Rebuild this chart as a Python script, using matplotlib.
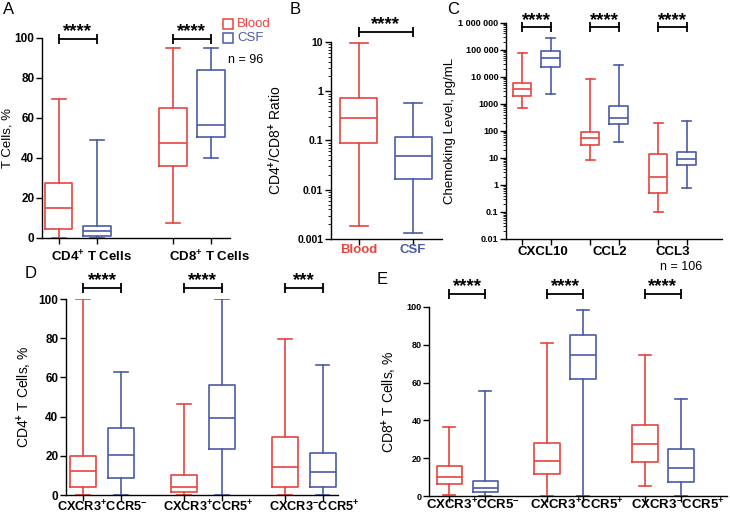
import matplotlib
matplotlib.use('Agg')
import matplotlib.pyplot as plt
from matplotlib.lines import Line2D
from matplotlib.ticker import LogLocator, NullFormatter, FixedLocator

plt.rcParams['font.family'] = ['Liberation Sans', 'DejaVu Sans']
plt.rcParams['font.weight'] = 'bold'
plt.rcParams['mathtext.fontset'] = 'custom'
plt.rcParams['mathtext.rm'] = 'Liberation Sans'
plt.rcParams['mathtext.bf'] = 'Liberation Sans:bold'

RED = '#E8443F'
BLUE = '#4A5BA8'

# box stats: [min, q1, median, q3, max]
a_groups = ['CD4$^{\\mathbf{+}}$ T Cells', 'CD8$^{\\mathbf{+}}$ T Cells']
a_blood = [[0, 4.7, 15.2, 27.4, 69.6], [7.4, 36.1, 47.3, 64.9, 94.8]]
a_csf = [[0, 1.0, 3.3, 6.0, 49.0], [39.8, 50.3, 56.4, 83.9, 95.0]]

b_groups = ['Blood', 'CSF']
b_blood = [[0.00186, 0.091, 0.29, 0.74, 9.5]]
b_csf = [[0.00132, 0.0166, 0.049, 0.118, 0.575]]

c_groups = ['CXCL10', 'CCL2', 'CCL3']
c_blood = [[690, 1950, 3500, 5700, 74000], [8.5, 30, 54, 93, 8100], [0.1, 0.52, 1.9, 14, 190]]
c_csf = [[2250, 23000, 48000, 93000, 265000], [40, 183, 295, 840, 27000], [0.76, 5.5, 9.1, 17, 240]]

subsets = ['CXCR3$^{\\mathbf{+}}$CCR5$^{\\mathbf{-}}$', 'CXCR3$^{\\mathbf{+}}$CCR5$^{\\mathbf{+}}$',
           'CXCR3$^{\\mathbf{-}}$CCR5$^{\\mathbf{+}}$']
d_blood = [[0, 4.3, 12.4, 20.1, 100], [0, 1.7, 3.9, 10.2, 46.3], [0, 3.9, 14.5, 29.5, 79.6]]
d_csf = [[0, 8.5, 20.4, 34.1, 62.7], [0, 23.3, 39.2, 55.9, 100], [0, 4.3, 11.6, 21.3, 66.4]]
d_stars = ['****', '****', '***']

e_blood = [[0.5, 6.2, 9.9, 16.0, 36.6], [0, 11.4, 18.5, 27.8, 81.0], [5.3, 17.8, 27.5, 37.5, 74.8]]
e_csf = [[0, 1.9, 4.4, 7.9, 55.5], [0, 62.1, 74.8, 85.0, 98.2], [0, 7.2, 15.0, 24.8, 51.1]]
e_stars = ['****', '****', '****']

W, H = 730, 514
fig = plt.figure(figsize=(W / 100, H / 100), dpi=100)


def add_ax(l, r, t, b):
    return fig.add_axes([l / W, 1 - b / H, (r - l) / W, (b - t) / H])


def boxes(ax, rows, pos, color, width):
    st = [dict(whislo=r[0], q1=r[1], med=r[2], q3=r[3], whishi=r[4], fliers=[]) for r in rows]
    p = dict(color=color, lw=1.2)
    ax.bxp(st, positions=pos, widths=width, showfliers=False, manage_ticks=False,
           boxprops=p, medianprops=p, whiskerprops=p, capprops=p, capwidths=width * 0.5)


def style(ax, size=8.5):
    for s in ['top', 'right']:
        ax.spines[s].set_visible(False)
    for s in ['left', 'bottom']:
        ax.spines[s].set_linewidth(1)
    ax.tick_params(direction='out', length=4, width=1, labelsize=size, pad=1.5)


def bracket(ax, x1, x2, y, stars):
    ax.plot([x1, x2], [y, y], color='k', lw=1.3, marker='|', ms=7, mew=1.3, clip_on=False)
    ax.annotate(stars, xy=((x1 + x2) / 2, y), xytext=(0, -1), textcoords='offset points',
                ha='center', va='bottom', fontsize=13.5, fontweight='bold', annotation_clip=False)


def group_labels(ax, xs, labels, dy, colors=None, size=9.5):
    for i, (x, lab) in enumerate(zip(xs, labels)):
        ax.annotate(lab, xy=(x, 0), xycoords=('data', 'axes fraction'), xytext=(0, -dy),
                    textcoords='offset points', ha='center', va='center', fontsize=size,
                    color=colors[i] if colors else 'k', annotation_clip=False)


# ---------------- A ----------------
ax = add_ax(42, 230, 38, 238)
pa_b = [1, 4]
pa_c = [2, 5]
boxes(ax, a_blood, pa_b, RED, 0.72)
boxes(ax, a_csf, pa_c, BLUE, 0.72)
ax.set_xlim(0.56, 5.5)
ax.set_ylim(0, 100)
ax.set_yticks([0, 20, 40, 60, 80, 100])
ax.set_xticks(pa_b + pa_c)
ax.set_xticklabels([])
style(ax, 8.5)
ax.set_ylabel('T Cells, %', fontsize=9.5)
ax.yaxis.set_label_coords(-0.15, 0.5)
for b, c in zip(pa_b, pa_c):
    bracket(ax, b, c, 99.5, '****')
group_labels(ax, [1.87, 4.95], a_groups, 14)
fig.text(3 / W, 1 - 9 / H, 'A', fontsize=12, fontweight='normal', va='center')
fig.add_artist(Line2D([228 / W], [1 - 24 / H], marker='s', ms=7, mfc='none', mec=RED, mew=1.1))
fig.add_artist(Line2D([228 / W], [1 - 38 / H], marker='s', ms=7, mfc='none', mec=BLUE, mew=1.1))
fig.text(237 / W, 1 - 24 / H, 'Blood', color=RED, fontsize=9.5, fontweight='normal', va='center')
fig.text(237 / W, 1 - 38 / H, 'CSF', color=BLUE, fontsize=9.5, fontweight='normal', va='center')
fig.text(228 / W, 1 - 60 / H, 'n = 96', fontsize=9, fontweight='normal', va='center')

# ---------------- B ----------------
ax = add_ax(331, 442, 42, 239)
boxes(ax, b_blood, [1], RED, 0.68)
boxes(ax, b_csf, [2], BLUE, 0.68)
ax.set_yscale('log')
ax.set_ylim(0.001, 10)
ax.set_xlim(0.49, 2.53)
ax.set_yticks([0.001, 0.01, 0.1, 1, 10])
ax.set_yticklabels(['0.001', '0.01', '0.1', '1', '10'])
ax.yaxis.set_minor_locator(LogLocator(subs=range(2, 10)))
ax.yaxis.set_minor_formatter(NullFormatter())
ax.set_xticks([1, 2])
ax.set_xticklabels([])
style(ax, 7.5)
ax.tick_params(which='minor', length=2, width=0.6)
ax.set_ylabel('CD4$^{\\mathbf{+}}$/CD8$^{\\mathbf{+}}$ Ratio', fontsize=10)
ax.yaxis.set_label_coords(-0.42, 0.5)
bracket(ax, 1, 2, 16, '****')
group_labels(ax, [1, 2], b_groups, 8, colors=[RED, BLUE], size=9.5)
fig.text(290 / W, 1 - 9 / H, 'B', fontsize=12, fontweight='normal', va='center')

# ---------------- C ----------------
ax = add_ax(506, 722, 22.7, 239)
pc_b = [0, 2.4, 4.8]
pc_c = [1, 3.4, 5.8]
boxes(ax, c_blood, pc_b, RED, 0.65)
boxes(ax, c_csf, pc_c, BLUE, 0.65)
ax.set_yscale('log')
ax.set_ylim(0.01, 1e6)
ax.set_xlim(-0.57, 7.05)
ct = [0.01, 0.1, 1, 10, 100, 1000, 1e4, 1e5, 1e6]
ax.yaxis.set_major_locator(FixedLocator(ct))
ax.set_yticklabels(['0.01', '0.1', '1', '10', '100', '1000', '10 000', '100 000', '1 000 000'])
ax.yaxis.set_minor_locator(LogLocator(subs=range(2, 10), numticks=20))
ax.yaxis.set_minor_formatter(NullFormatter())
ax.set_xticks(pc_b + pc_c)
ax.set_xticklabels([])
style(ax, 6.5)
ax.tick_params(which='minor', length=2, width=0.6)
ax.set_ylabel('Chemoking Level, pg/mL', fontsize=9.5)
ax.yaxis.set_label_coords(-0.232, 0.5)
for b, c in zip(pc_b, pc_c):
    bracket(ax, b, c, 6.8e5, '****')
group_labels(ax, [0.74, 3.1, 5.33], c_groups, 9.4)
fig.text(660 / W, 1 - 267 / H, 'n = 106', fontsize=9, fontweight='normal', va='center')
fig.text(447 / W, 1 - 9 / H, 'C', fontsize=12, fontweight='normal', va='center')

# ---------------- D ----------------
ax = add_ax(66, 338, 299, 495)
pd_b = [0, 2.66, 5.32]
pd_c = [1, 3.66, 6.32]
boxes(ax, d_blood, pd_b, RED, 0.7)
boxes(ax, d_csf, pd_c, BLUE, 0.7)
ax.set_xlim(-0.45, 6.72)
ax.set_ylim(0, 100)
ax.set_yticks([0, 20, 40, 60, 80, 100])
ax.set_xticks(pd_b + pd_c)
ax.set_xticklabels([])
style(ax, 8.5)
ax.set_ylabel('CD4$^{\\mathbf{+}}$ T Cells, %', fontsize=10)
ax.yaxis.set_label_coords(-0.118, 0.5)
for b, c, s in zip(pd_b, pd_c, d_stars):
    bracket(ax, b, c, 105.6, s)
group_labels(ax, [0.5, 3.3, 6.1], subsets, 8.5, size=9.2)
fig.text(25 / W, 1 - 273 / H, 'D', fontsize=12, fontweight='normal', va='center')

# ---------------- E ----------------
ax = add_ax(429, 727, 307, 496)
pe_b = [0, 2.72, 5.44]
pe_c = [1, 3.72, 6.44]
boxes(ax, e_blood, pe_b, RED, 0.7)
boxes(ax, e_csf, pe_c, BLUE, 0.7)
ax.set_xlim(-0.56, 7.72)
ax.set_ylim(0, 100)
ax.set_yticks([0, 20, 40, 60, 80, 100])
ax.set_xticks(pe_b + pe_c)
ax.set_xticklabels([])
style(ax, 6.5)
ax.set_ylabel('CD8$^{\\mathbf{+}}$ T Cells, %', fontsize=10)
ax.yaxis.set_label_coords(-0.102, 0.5)
for b, c, s in zip(pe_b, pe_c, e_stars):
    bracket(ax, b, c, 106.9, s)
group_labels(ax, [0.66, 3.55, 6.35], subsets, 6.5, size=9.5)
fig.text(377 / W, 1 - 279 / H, 'E', fontsize=12, fontweight='normal', va='center')

fig.savefig('out.png', dpi=100)
